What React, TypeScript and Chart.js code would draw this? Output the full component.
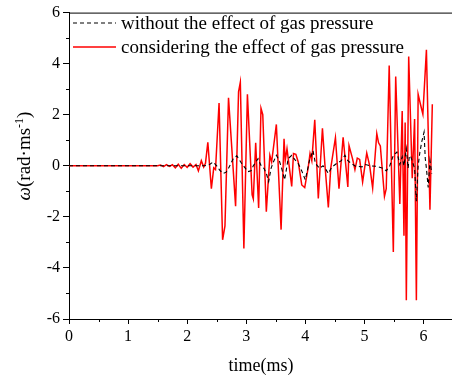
import React, { useEffect, useRef } from "react";
import { Chart, registerables } from "chart.js";

Chart.register(...registerables);

// time (ms) and angular velocity (rad/ms) — considering gas pressure (red solid)
const redTime = [
  0, 1.5, 1.55, 1.6, 1.65, 1.7, 1.75, 1.8, 1.85, 1.9, 1.95, 2.0, 2.05, 2.1, 2.15, 2.19, 2.24, 2.28, 2.31,
  2.35, 2.41, 2.45, 2.48, 2.54, 2.6, 2.64, 2.7, 2.82, 2.87, 2.9, 2.96, 3.02, 3.1, 3.12, 3.16, 3.21, 3.25,
  3.28, 3.34, 3.4, 3.43, 3.49, 3.51, 3.59, 3.64, 3.66, 3.69, 3.77, 3.8, 3.84, 3.88, 3.94, 3.99, 4.05, 4.08,
  4.11, 4.16, 4.22, 4.29, 4.33, 4.39, 4.43, 4.51, 4.57, 4.64, 4.72, 4.74, 4.8, 4.84, 4.88, 4.92, 4.97, 5.04,
  5.09, 5.14, 5.21, 5.24, 5.27, 5.34, 5.37, 5.42, 5.49, 5.53, 5.6, 5.64, 5.67, 5.69, 5.71, 5.75, 5.81, 5.85,
  5.88, 5.91, 5.95, 5.99, 6.05, 6.11, 6.15,
];
const redOmega = [
  0, 0, 0.03, -0.03, 0.05, -0.02, 0.04, -0.08, 0.06, -0.1, 0.05, -0.06, 0.08, -0.05, 0.05, -0.2, 0.2, -0.05, 0.1,
  0.92, -0.9, -0.08, -0.15, 2.46, -2.9, -2.35, 2.66, -1.58, 2.9, 3.27, -3.24, 2.8, -1.14, -1.3, 0.9, -1.65, 2.25,
  2.0, -1.8, 0.41, 0.15, 1.25, 1.62, -2.5, 1.06, 0.2, 0.67, -0.81, 0.48, 0.45, 0.15, -0.75, -0.85, -0.05, 0.48,
  0.2, 1.8, -1.28, 1.47, 0.1, -1.63, -0.1, 1.1, -0.9, 1.12, -0.83, 0.79, 0.27, -0.15, 0.3, 0.25, -0.63, 0.5,
  0.0, -0.87, 1.26, 0.9, 0.78, -1.2, -0.9, 3.93, -3.38, 3.5, -1.5, 2.15, -2.74, 1.7, -5.27, 4.28, -0.49, 1.83,
  -5.27, 2.8, 2.4, 2.02, 4.54, -1.72, 2.41,
];

// without the effect of gas pressure (black dashed)
const blackTime = [
  0, 2.3, 2.38, 2.44, 2.5, 2.55, 2.61, 2.66, 2.7, 2.78, 2.84, 2.88, 2.92, 2.97, 3.03, 3.08, 3.12, 3.2, 3.26,
  3.3, 3.34, 3.38, 3.42, 3.46, 3.51, 3.56, 3.6, 3.65, 3.71, 3.77, 3.82, 3.88, 3.94, 4.0, 4.07, 4.13, 4.17,
  4.24, 4.3, 4.35, 4.39, 4.45, 4.53, 4.61, 4.67, 4.72, 4.78, 4.85, 4.96, 5.02, 5.1, 5.2, 5.32, 5.37, 5.43,
  5.49, 5.55, 5.6, 5.64, 5.67, 5.71, 5.74, 5.76, 5.78, 5.85, 5.88, 5.91, 5.94, 5.97, 6.01, 6.03, 6.05, 6.08,
  6.11, 6.14,
];
const blackOmega = [
  0, 0, 0.05, 0.15, 0.0, -0.17, -0.3, -0.25, -0.1, 0.28, 0.39, 0.25, 0.1, -0.05, -0.23, -0.2, 0.0, 0.28, -0.04,
  -0.1, -0.3, -0.62, -0.1, 0.15, 0.41, 0.2, -0.1, -0.55, 0.28, 0.41, 0.25, 0.09, -0.2, -0.55, 0.2, 0.6, 0.1,
  -0.1, 0.0, -0.15, -0.3, -0.05, 0.09, 0.2, 0.41, 0.2, 0.09, -0.02, -0.04, 0.05, 0.0, -0.02, -0.1, -0.2, 0.0,
  0.41, 0.54, 0.05, 0.35, 0.0, 0.67, -0.1, 0.35, 0.4, -0.1, -1.39, 0.0, 0.54, 0.93, 1.32, 0.3, -0.1, -0.85,
  0.2, -0.3,
];

const legendLabels = ["without the effect of gas pressure", "considering the effect of gas pressure"];
const xTitle = "time(ms)";
const xTickValues = [0, 1, 2, 3, 4, 5, 6];
const yTickValues = [-6, -4, -2, 0, 2, 4, 6];
const xMin = 0;
const xMax = 6.5;
const yMin = -6;
const yMax = 6;

const SERIF = "'Liberation Serif', 'Times New Roman', serif";

const decorPlugin = {
  id: "decor",
  afterDraw(chart: any) {
    const ctx = chart.ctx as CanvasRenderingContext2D;
    const { left, right, top, bottom } = chart.chartArea;
    const xs = chart.scales.x;
    const ys = chart.scales.y;
    ctx.save();
    ctx.strokeStyle = "#000";
    ctx.lineWidth = 1;
    // top frame line
    ctx.beginPath();
    ctx.moveTo(left, top + 0.5);
    ctx.lineTo(right + 20, top + 0.5);
    ctx.stroke();
    // minor ticks
    ctx.beginPath();
    for (let v = xMin + 0.5; v < xMax; v += 1) {
      const px = Math.round(xs.getPixelForValue(v)) + 0.5;
      ctx.moveTo(px, bottom);
      ctx.lineTo(px, bottom + 3);
    }
    for (let v = yMin + 1; v < yMax; v += 2) {
      const py = Math.round(ys.getPixelForValue(v)) + 0.5;
      ctx.moveTo(left, py);
      ctx.lineTo(left - 3, py);
    }
    ctx.stroke();

    // legend
    const lx0 = 73, lx1 = 116, tx = 121;
    const ly = [23, 47];
    ctx.lineWidth = 1.2;
    ctx.strokeStyle = "#000";
    ctx.setLineDash([4, 3]);
    ctx.beginPath();
    ctx.moveTo(lx0, ly[0]);
    ctx.lineTo(lx1, ly[0]);
    ctx.stroke();
    ctx.setLineDash([]);
    ctx.strokeStyle = "#ff0000";
    ctx.lineWidth = 1.5;
    ctx.beginPath();
    ctx.moveTo(lx0, ly[1]);
    ctx.lineTo(lx1, ly[1]);
    ctx.stroke();
    ctx.fillStyle = "#000";
    ctx.font = `19px ${SERIF}`;
    ctx.textBaseline = "middle";
    ctx.textAlign = "left";
    ctx.fillText(legendLabels[0], tx, ly[0] + 1);
    ctx.fillText(legendLabels[1], tx, ly[1] + 1);

    // x title
    ctx.textAlign = "center";
    ctx.font = `18px ${SERIF}`;
    ctx.fillText(xTitle, 261, 366);

    // y title: ω(rad·ms^-1)
    ctx.translate(24, 156);
    ctx.rotate(-Math.PI / 2);
    const big = 19;
    const small = 12;
    ctx.font = `italic ${big}px ${SERIF}`;
    const wOmega = ctx.measureText("ω").width;
    ctx.font = `${big}px ${SERIF}`;
    const wMain = ctx.measureText("(rad·ms").width;
    ctx.font = `${small}px ${SERIF}`;
    const wSup = ctx.measureText("-1").width;
    ctx.font = `${big}px ${SERIF}`;
    const wClose = ctx.measureText(")").width;
    const total = wOmega + wMain + wSup + wClose;
    let x = -total / 2;
    ctx.textAlign = "left";
    ctx.textBaseline = "alphabetic";
    const base = 6;
    ctx.font = `italic ${big}px ${SERIF}`;
    ctx.fillText("ω", x, base);
    x += wOmega;
    ctx.font = `${big}px ${SERIF}`;
    ctx.fillText("(rad·ms", x, base);
    x += wMain;
    ctx.font = `${small}px ${SERIF}`;
    ctx.fillText("-1", x, base - 7);
    x += wSup;
    ctx.font = `${big}px ${SERIF}`;
    ctx.fillText(")", x, base);
    ctx.restore();
  },
};

export default function App() {
  const ref = useRef<HTMLCanvasElement | null>(null);
  useEffect(() => {
    if (!ref.current) return;
    const redData = redTime.map((t, i) => ({ x: t, y: redOmega[i] }));
    const blackData = blackTime.map((t, i) => ({ x: t, y: blackOmega[i] }));
    const chart = new Chart(ref.current, {
      type: "line",
      data: {
        datasets: [
          {
            label: legendLabels[0],
            data: blackData,
            borderColor: "#000",
            borderWidth: 1.1,
            borderDash: [4, 3],
            pointRadius: 0,
            fill: false,
            tension: 0,
          },
          {
            label: legendLabels[1],
            data: redData,
            borderColor: "#ff0000",
            borderWidth: 1.5,
            pointRadius: 0,
            fill: false,
            tension: 0,
          },
        ],
      },
      plugins: [decorPlugin],
      options: {
        animation: false,
        responsive: false,
        maintainAspectRatio: false,
        devicePixelRatio: 1,
        layout: { padding: { left: 0, top: 9, right: 7, bottom: 0 } },
        plugins: { legend: { display: false }, tooltip: { enabled: false } },
        scales: {
          x: {
            type: "linear",
            min: xMin,
            max: xMax,
            ticks: {
              color: "#000",
              font: { family: SERIF, size: 16 },
              padding: 3,
              maxRotation: 0,
              autoSkip: false,
              callback: (v: any) => String(v),
            },
            afterBuildTicks: (s: any) => {
              s.ticks = xTickValues.map((v) => ({ value: v }));
            },
            afterFit: (s: any) => {
              s.height = 62;
            },
            grid: { display: true, drawOnChartArea: false, drawTicks: true, tickLength: 5, color: "#000" },
            border: { display: true, color: "#000", width: 1 },
          },
          y: {
            type: "linear",
            min: yMin,
            max: yMax,
            ticks: {
              color: "#000",
              font: { family: SERIF, size: 16 },
              padding: 3,
              autoSkip: false,
              callback: (v: any) => String(v),
            },
            afterBuildTicks: (s: any) => {
              s.ticks = yTickValues.map((v) => ({ value: v }));
            },
            afterFit: (s: any) => {
              s.width = 69;
            },
            grid: { display: true, drawOnChartArea: false, drawTicks: true, tickLength: 6, color: "#000" },
            border: { display: true, color: "#000", width: 1 },
          },
        },
      },
    });
    return () => chart.destroy();
  }, []);
  return (
    <div style={{ position: "fixed", left: 0, top: 0, width: 452, height: 381, overflow: "hidden", background: "#fff" }}>
      <canvas ref={ref} width={460} height={381} style={{ display: "block", width: 460, height: 381 }} />
    </div>
  );
}
